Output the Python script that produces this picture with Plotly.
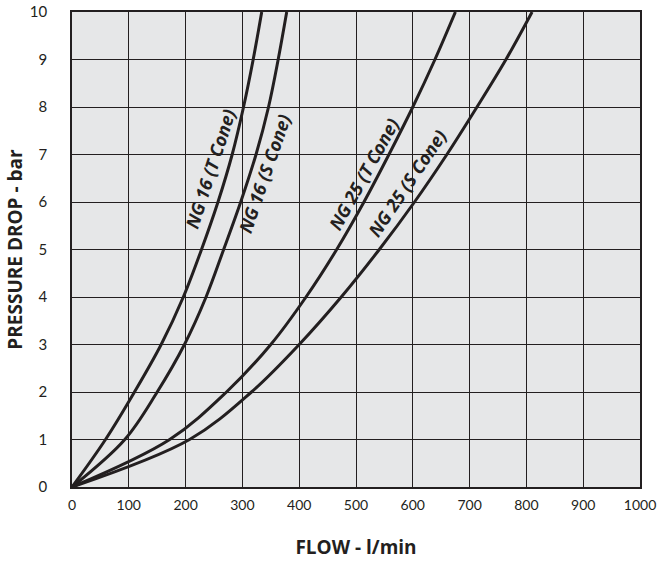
import plotly.graph_objects as go

# Pressure drop levels (bar) at which flow was read
pressure = [0, 1, 2, 3, 4, 5, 6, 7, 8, 9, 10]

# Flow (l/min) for each curve at the pressure levels above
flow_ng16_t = [0, 59, 110, 157, 196, 228, 257, 282, 302, 319, 334]
flow_ng16_s = [0, 93, 150, 198, 236, 267, 297, 324, 346, 363, 378]
flow_ng25_t = [0, 172, 272, 350, 412, 466, 514, 558, 600, 639, 675]
flow_ng25_s = [0, 207, 316, 400, 474, 541, 603, 660, 713, 764, 810]

series_names = ["NG 16 (T Cone)", "NG 16 (S Cone)", "NG 25 (T Cone)", "NG 25 (S Cone)"]
series_flows = [flow_ng16_t, flow_ng16_s, flow_ng25_t, flow_ng25_s]

x_ticks = [0, 100, 200, 300, 400, 500, 600, 700, 800, 900, 1000]
y_ticks = [0, 1, 2, 3, 4, 5, 6, 7, 8, 9, 10]

INK = "#231f20"
FONT = "Lato"
TFONT = "Open Sans"

fig = go.Figure()
for name, fl in zip(series_names, series_flows):
    fig.add_trace(go.Scatter(
        x=fl, y=pressure, mode="lines", name=name,
        line=dict(color=INK, width=3, shape="spline", smoothing=1.0),
        showlegend=False, hoverinfo="skip", cliponaxis=True))

# curve labels (position in data coords, rotation)
label_specs = [
    (series_names[0], 243, 6.7, -72),
    (series_names[1], 338, 6.6, -71),
    (series_names[2], 513, 6.6, -61),
    (series_names[3], 590, 6.4, -56),
]
for text, lx, ly, ang in label_specs:
    fig.add_annotation(x=lx, y=ly, xref="x", yref="y", text="<b><i>" + text + "</i></b>",
                       showarrow=False, textangle=ang,
                       font=dict(family=TFONT, size=18, color=INK))

fig.update_xaxes(range=[0, 1000], tickvals=x_ticks, ticktext=[str(v) for v in x_ticks],
                 showgrid=True, gridcolor=INK, gridwidth=1, zeroline=False,
                 showline=True, linecolor=INK, linewidth=1.5, mirror=True,
                 ticks="", tickfont=dict(family=FONT, size=14, color=INK),
                 ticklabelstandoff=4, automargin=False, ticklabeloverflow="allow",
                 title=dict(text="<b>FLOW - l/min</b>", font=dict(family=TFONT, size=19, color=INK),
                            standoff=29))
fig.update_yaxes(range=[0, 10], tickvals=y_ticks, ticktext=[str(v) for v in y_ticks],
                 showgrid=True, gridcolor=INK, gridwidth=1, zeroline=False,
                 showline=True, linecolor=INK, linewidth=1.5, mirror=True,
                 ticks="", tickfont=dict(family=FONT, size=15, color=INK),
                 ticklabelstandoff=20, automargin=False, ticklabeloverflow="allow",
                 title=dict(text="<b>PRESSURE DROP - bar</b>", font=dict(family=TFONT, size=19, color=INK),
                            standoff=2))

fig.update_layout(width=657, height=565,
                  margin=dict(l=72, r=17, t=12, b=78),
                  plot_bgcolor="#e6e7e8", paper_bgcolor="white")

fig.write_html("out.html", config={"displayModeBar": False},
               post_script="document.body.style.margin='0';")
